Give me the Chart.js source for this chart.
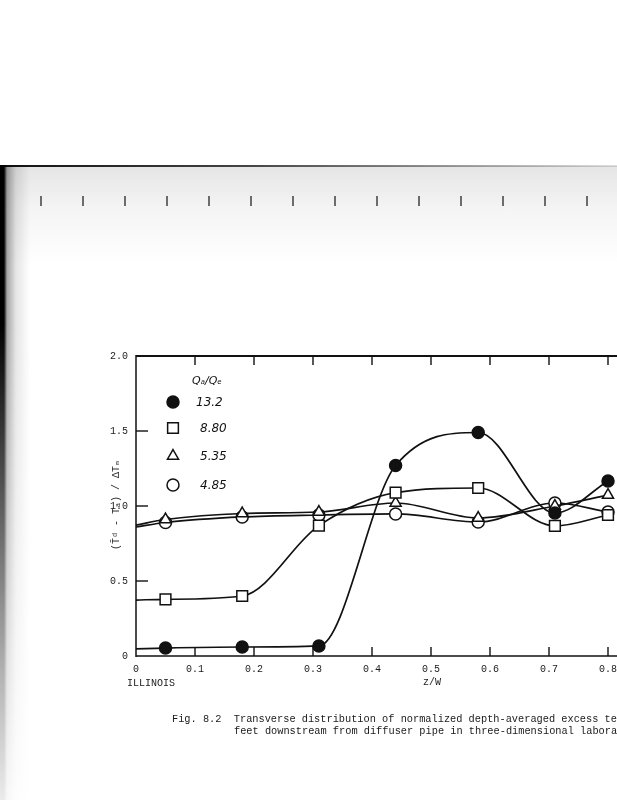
<!DOCTYPE html>
<html><head><meta charset="utf-8">
<script src="https://cdn.jsdelivr.net/npm/chart.js@4"></script>
<style>
html,body{margin:0;padding:0;width:617px;height:800px;overflow:hidden;background:#fff;}
#wrap{position:relative;width:617px;height:800px;overflow:hidden;background:#fff;}
canvas{position:absolute;left:0;top:0;}
.t{position:absolute;font-family:"Liberation Mono","DejaVu Sans Mono",monospace;color:#1a1a1a;white-space:pre;line-height:1;}
#scanTop{position:absolute;left:0;top:166px;width:617px;height:100px;
 background:linear-gradient(to bottom,rgba(0,0,0,0.10),rgba(0,0,0,0.04) 45%,rgba(0,0,0,0.0));}
#scanLine{position:absolute;left:0;top:165px;width:617px;height:2px;background:linear-gradient(to right,#111,#444 40%,rgba(0,0,0,0.12));}
#scanLeft{position:absolute;left:0;top:165px;width:30px;height:635px;
 background:linear-gradient(to right,#000 0,#000 4px,rgba(0,0,0,0.35) 7px,rgba(0,0,0,0.10) 16px,rgba(0,0,0,0) 30px);
 -webkit-mask-image:linear-gradient(to bottom,#000 0,#000 25%,rgba(0,0,0,0.3) 80%,rgba(0,0,0,0.08) 100%);}
#ruler{position:absolute;left:0;top:196px;width:617px;height:10px;opacity:0.7;
 background:repeating-linear-gradient(to right,transparent 0,transparent 40px,#333 40px,#333 42px);}
</style></head><body>
<div id="wrap">
<div id="scanTop"></div>
<div id="scanLine"></div>
<div id="ruler"></div>
<div id="scanLeft"></div>
<canvas id="c" width="700" height="800"></canvas>
<div class="t" style="left:127px;top:679px;font-size:10px">ILLINOIS</div>
<div class="t" style="left:423px;top:678px;font-size:10px">z/W</div>
<div class="t" style="left:117px;top:505px;font-size:10px;transform:translate(-50%,-50%) rotate(-90deg);">(T&#772;&#7496; - T&#8336;) / &#916;T&#8344;</div>
<div class="t" style="left:172px;top:714px;font-size:10.3px">Fig. 8.2  Transverse distribution of normalized depth-averaged excess te</div>
<div class="t" style="left:234px;top:726px;font-size:10.3px">feet downstream from diffuser pipe in three-dimensional labora</div>
</div>
<script>
// ---- data ----
const xPos      = [0, 0.05, 0.18, 0.31, 0.44, 0.58, 0.71, 0.80];
const ratio13_2 = [0.047, 0.053, 0.06, 0.067, 1.27, 1.49, 0.953, 1.167];
const ratio8_80 = [0.373, 0.378, 0.40, 0.869, 1.089, 1.12, 0.867, 0.94];
const ratio5_35 = [0.873, 0.91, 0.95, 0.96, 1.02, 0.92, 1.0, 1.073];
const ratio4_85 = [0.86, 0.89, 0.927, 0.94, 0.947, 0.893, 1.02, 0.96];
const seriesLabels = ['13.2', '8.80', '5.35', '4.85'];
const legendTitle = 'Q\u2090/Q\u2091';
const xTickValues = [0, 0.1, 0.2, 0.3, 0.4, 0.5, 0.6, 0.7, 0.8];
const yTickValues = [0, 0.5, 1.0, 1.5, 2.0];
const xTickLabels = ['0', '0.1', '0.2', '0.3', '0.4', '0.5', '0.6', '0.7', '0.8'];
const yTickLabels = ['0', '0.5', '1.0', '1.5', '2.0'];

const pts = arr => arr.map((v, i) => ({x: xPos[i], y: v}));
const radii = r => xPos.map((_, i) => i === 0 ? 0 : r);
const INK = '#111';

const seriesStyles = [
  {data: ratio13_2, pointStyle: 'circle',   r: 6,   fill: INK},
  {data: ratio8_80, pointStyle: 'rect',     r: 7.6, fill: '#fff'},
  {data: ratio5_35, pointStyle: 'triangle', r: 6.4, fill: '#fff'},
  {data: ratio4_85, pointStyle: 'circle',   r: 6,   fill: '#fff'},
];

const datasets = seriesStyles.map((s, i) => ({
  label: seriesLabels[i],
  data: pts(s.data),
  borderColor: INK,
  borderWidth: 1.7,
  pointStyle: s.pointStyle,
  pointRadius: radii(s.r),
  pointBackgroundColor: s.fill,
  pointBorderColor: INK,
  pointBorderWidth: 1.5,
  cubicInterpolationMode: 'monotone',
  fill: false,
  clip: false
}));

const framePlugin = {
  id: 'frame',
  afterDatasetsDraw(chart) {
    const {ctx, chartArea: a, scales: {x, y}} = chart;
    ctx.save();
    ctx.strokeStyle = INK;
    ctx.lineCap = 'butt';
    ctx.lineWidth = 1.5;
    ctx.beginPath(); ctx.moveTo(a.left, a.top - 1); ctx.lineTo(a.left, a.bottom + 1); ctx.stroke();
    ctx.lineWidth = 2;
    ctx.beginPath(); ctx.moveTo(a.left, a.top); ctx.lineTo(a.right, a.top); ctx.stroke();
    ctx.lineWidth = 1.6;
    ctx.beginPath(); ctx.moveTo(a.left, a.bottom); ctx.lineTo(a.right, a.bottom); ctx.stroke();
    ctx.lineWidth = 1.4;
    xTickValues.forEach(v => {
      if (v === 0) return;
      const px = x.getPixelForValue(v);
      ctx.beginPath(); ctx.moveTo(px, a.top); ctx.lineTo(px, a.top + 9); ctx.stroke();
      ctx.beginPath(); ctx.moveTo(px, a.bottom); ctx.lineTo(px, a.bottom - 9); ctx.stroke();
    });
    yTickValues.forEach(v => {
      if (v === 0 || v === 2) return;
      const py = y.getPixelForValue(v);
      ctx.beginPath(); ctx.moveTo(a.left, py); ctx.lineTo(a.left + 12, py); ctx.stroke();
    });
    ctx.restore();
  },
  afterDraw(chart) {
    const {ctx} = chart;
    ctx.save();
    ctx.fillStyle = INK;
    ctx.textBaseline = 'middle';
    ctx.font = 'italic 11px "DejaVu Sans", sans-serif';
    ctx.fillText(legendTitle, 192, 381);
    const rows = [402, 428, 456, 485];
    chart.data.datasets.forEach((ds, i) => {
      const st = seriesStyles[i];
      ctx.fillStyle = st.fill; ctx.strokeStyle = INK; ctx.lineWidth = 1.5;
      Chart.helpers.drawPoint(ctx, {pointStyle: st.pointStyle, radius: st.r, borderWidth: 1.5, rotation: 0}, 173, rows[i]);
      ctx.fillStyle = INK;
      ctx.font = 'italic 12px "DejaVu Sans", sans-serif';
      ctx.fillText(seriesLabels[i], i === 0 ? 196 : 200, rows[i] + 1);
    });
    ctx.restore();
  }
};

new Chart(document.getElementById('c'), {
  type: 'line',
  data: {datasets},
  plugins: [framePlugin],
  options: {
    responsive: false,
    animation: false,
    events: [],
    layout: {padding: {left: 0, top: 356, right: 33, bottom: 114}},
    plugins: {legend: {display: false}, tooltip: {enabled: false}},
    scales: {
      x: {
        type: 'linear', min: 0, max: 0.9,
        afterFit: s => { s.height = 30; },
        afterBuildTicks: s => { s.ticks = xTickValues.map(v => ({value: v})); },
        grid: {display: false, drawTicks: false},
        border: {display: false},
        ticks: {
          color: '#1a1a1a', padding: 7,
          font: {family: '"Liberation Mono", monospace', size: 10},
          callback: (v) => xTickLabels[xTickValues.findIndex(t => Math.abs(t - v) < 1e-9)],
          maxRotation: 0
        }
      },
      y: {
        type: 'linear', min: 0, max: 2,
        afterFit: s => { s.width = 136; },
        afterBuildTicks: s => { s.ticks = yTickValues.map(v => ({value: v})); },
        grid: {display: false, drawTicks: false},
        border: {display: false},
        ticks: {
          color: '#1a1a1a', padding: 8,
          font: {family: '"Liberation Mono", monospace', size: 10},
          callback: (v) => yTickLabels[yTickValues.findIndex(t => Math.abs(t - v) < 1e-9)]
        }
      }
    }
  }
});
</script>
</body></html>
